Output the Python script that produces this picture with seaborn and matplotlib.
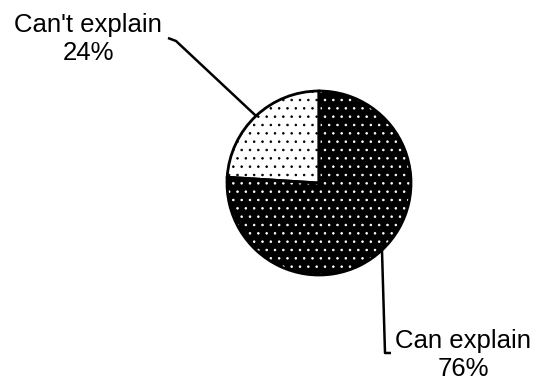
import numpy as np
import matplotlib
matplotlib.use("Agg")
import matplotlib.pyplot as plt
import seaborn as sns

labels = ["Can't explain", "Can explain"]
shares = [24, 76]
pct_labels = ["24%", "76%"]

sns.set_theme(style="white")
plt.rcParams['font.family'] = ['Liberation Sans', 'DejaVu Sans']
plt.rcParams['hatch.linewidth'] = 0.6

fig = plt.figure(figsize=(5.36, 3.83), dpi=100)
ax = fig.add_axes([0, 0, 1, 1])

cx, cy, r = 319, 200, 92

# filled wedges, hatch colour comes from edgecolor
wedges, _ = ax.pie(shares, startangle=90, counterclock=True, center=(cx, cy),
                   radius=r, colors=['white', 'black'],
                   wedgeprops=dict(linewidth=0))
wedges[0].set_edgecolor('black')
wedges[0].set_hatch('..')
wedges[1].set_edgecolor('white')
wedges[1].set_hatch('..')

# outline on top
ax.pie(shares, startangle=90, counterclock=True, center=(cx, cy),
       radius=r, wedgeprops=dict(fill=False, edgecolor='black', linewidth=2))
ax.set_xlim(0, 536)
ax.set_ylim(0, 383)
ax.set_aspect('equal')
ax.axis('off')

# label positions (pixels, y up) and elbows
text_pos = [(88, 344), (463, 28)]
elbows = [[(176, 342), (168, 345)], [(385, 30), (391, 30)]]

for w, lab, pct, tp, el in zip(wedges, labels, pct_labels, text_pos, elbows):
    mid = np.deg2rad((w.theta1 + w.theta2) / 2)
    ax_pt = (cx + r * np.cos(mid), cy + r * np.sin(mid))
    xs = [ax_pt[0]] + [p[0] for p in el]
    ys = [ax_pt[1]] + [p[1] for p in el]
    ax.plot(xs, ys, color='black', lw=1.8, solid_capstyle='butt')
    ax.text(tp[0], tp[1], lab + "\n" + pct, ha='center', va='center',
            fontsize=18.5, linespacing=1.2, color='black')

fig.savefig("out.png", dpi=100)
